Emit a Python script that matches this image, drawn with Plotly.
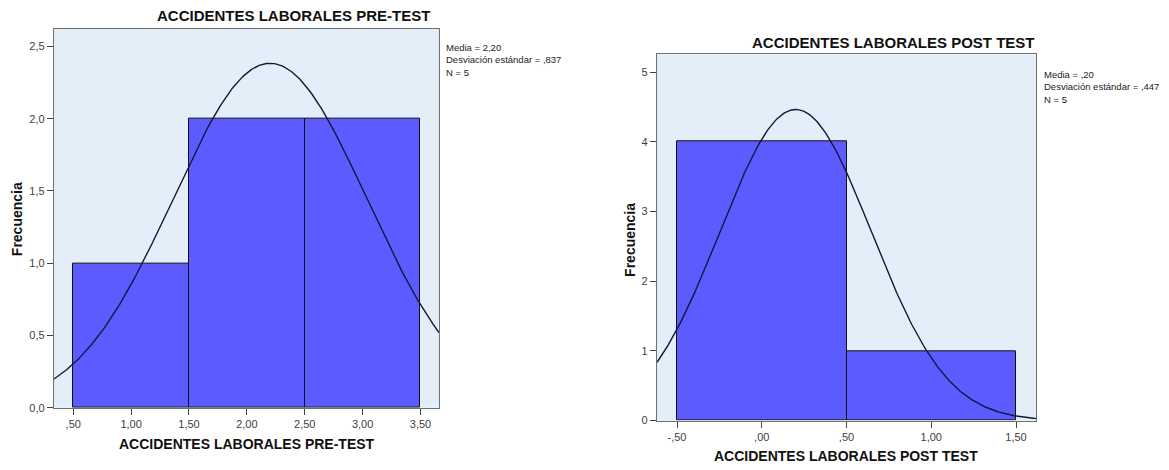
import numpy as np
import plotly.graph_objects as go

W, H = 1169, 470

# ---------------- data ----------------
pre_centers = [1.0, 2.0, 3.0]
pre_counts = [1, 2, 2]
pre_mean, pre_sd, pre_n = 2.20, 0.837, 5

post_centers = [0.0, 1.0]
post_counts = [4, 1]
post_mean, post_sd, post_n = 0.20, 0.447, 5

pre_xticks = [0.5, 1.0, 1.5, 2.0, 2.5, 3.0, 3.5]
pre_xtext = [",50", "1,00", "1,50", "2,00", "2,50", "3,00", "3,50"]
pre_yticks = [0.0, 0.5, 1.0, 1.5, 2.0, 2.5]
pre_ytext = ["0,0", "0,5", "1,0", "1,5", "2,0", "2,5"]

post_xticks = [-0.5, 0.0, 0.5, 1.0, 1.5]
post_xtext = ["-,50", ",00", ",50", "1,00", "1,50"]
post_yticks = [0, 1, 2, 3, 4, 5]
post_ytext = ["0", "1", "2", "3", "4", "5"]

pre_stats = ["Media = 2,20", "Desviación estándar = ,837", "N = 5"]
post_stats = ["Media = ,20", "Desviación estándar = ,447", "N = 5"]

title_pre = "ACCIDENTES LABORALES PRE-TEST"
title_post = "ACCIDENTES LABORALES POST TEST"
ylabel = "Frecuencia"

# ---------------- style ----------------
BAR = "#5b5bff"
BG = "#e3eef9"
FONT = "Arial, Liberation Sans, sans-serif"

pre_xrange = [0.334, 3.66]
pre_yrange = [0, 2.623]
post_xrange = [-0.618, 1.618]
post_yrange = [0, 5.255]


def px(x):
    return x / W


def py(y):
    return 1 - y / H


def normal_curve(mean, sd, n, xr, bw=1.0):
    xs = np.linspace(xr[0], xr[1], 300)
    ys = n * bw / (sd * np.sqrt(2 * np.pi)) * np.exp(-0.5 * ((xs - mean) / sd) ** 2)
    return xs, ys


fig = go.Figure()

fig.add_trace(go.Bar(x=pre_centers, y=pre_counts, width=1.0,
                     marker=dict(color=BAR, line=dict(color="#111111", width=1)),
                     xaxis="x", yaxis="y", showlegend=False))
cx, cy = normal_curve(pre_mean, pre_sd, pre_n, pre_xrange)
fig.add_trace(go.Scatter(x=cx, y=cy, mode="lines", line=dict(color="#16163a", width=1.4),
                         xaxis="x", yaxis="y", showlegend=False, cliponaxis=True))

fig.add_trace(go.Bar(x=post_centers, y=post_counts, width=1.0,
                     marker=dict(color=BAR, line=dict(color="#111111", width=1)),
                     xaxis="x2", yaxis="y2", showlegend=False))
cx2, cy2 = normal_curve(post_mean, post_sd, post_n, post_xrange)
fig.add_trace(go.Scatter(x=cx2, y=cy2, mode="lines", line=dict(color="#16163a", width=1.4),
                         xaxis="x2", yaxis="y2", showlegend=False, cliponaxis=True))

axis_common = dict(showgrid=False, zeroline=False, showline=True, linecolor="#707070",
                   linewidth=1.3, mirror=True, ticks="outside", ticklen=6, tickwidth=1.3,
                   tickcolor="#444444", tickfont=dict(family=FONT, size=11, color="#404040"),
                   tickmode="array", fixedrange=True)

fig.update_layout(
    width=W, height=H, autosize=False,
    margin=dict(l=0, r=0, t=0, b=0),
    paper_bgcolor="white", plot_bgcolor=BG,
    bargap=0,
    xaxis=dict(axis_common, domain=[px(54), px(439)], range=pre_xrange,
               tickvals=pre_xticks, ticktext=pre_xtext, anchor="y"),
    yaxis=dict(axis_common, domain=[py(413), py(29)], range=pre_yrange,
               tickvals=pre_yticks, ticktext=pre_ytext, anchor="x"),
    xaxis2=dict(axis_common, domain=[px(657), px(1036)], range=post_xrange,
                tickvals=post_xticks, ticktext=post_xtext, anchor="y2"),
    yaxis2=dict(axis_common, domain=[py(426), py(55)], range=post_yrange,
                tickvals=post_yticks, ticktext=post_ytext, anchor="x2"),
)

ann = []


def text(x, y, s, size=12, bold=False, angle=0, xanchor="center", yanchor="middle",
         color="#111111", align="center"):
    ann.append(dict(x=px(x), y=py(y), xref="paper", yref="paper", text=(f"<b>{s}</b>" if bold else s),
                    showarrow=False, xanchor=xanchor, yanchor=yanchor, textangle=angle, align=align,
                    borderpad=0, font=dict(family=FONT, size=size, color=color)))


# titles (centred over whole chart frame, as SPSS does)
text(293, 16, title_pre, 15, True)
text(893, 43, title_post, 15, True)
# x axis titles
text(247, 450, title_pre, 14, True)
text(846, 462, title_post, 14, True)
# y axis titles
text(17, 222, ylabel, 14, True, angle=-90)
text(630, 243, ylabel, 14, True, angle=-90)
# stats blocks
text(445, 61, "<br>".join(pre_stats), 9.5, xanchor="left", color="#222222", align="left")
text(1043, 88, "<br>".join(post_stats), 9.5, xanchor="left", color="#222222", align="left")

fig.update_layout(annotations=ann)
fig.write_html("out.html", config={"displayModeBar": False},
               post_script="document.body.style.margin='0';document.body.style.overflow='hidden';")
